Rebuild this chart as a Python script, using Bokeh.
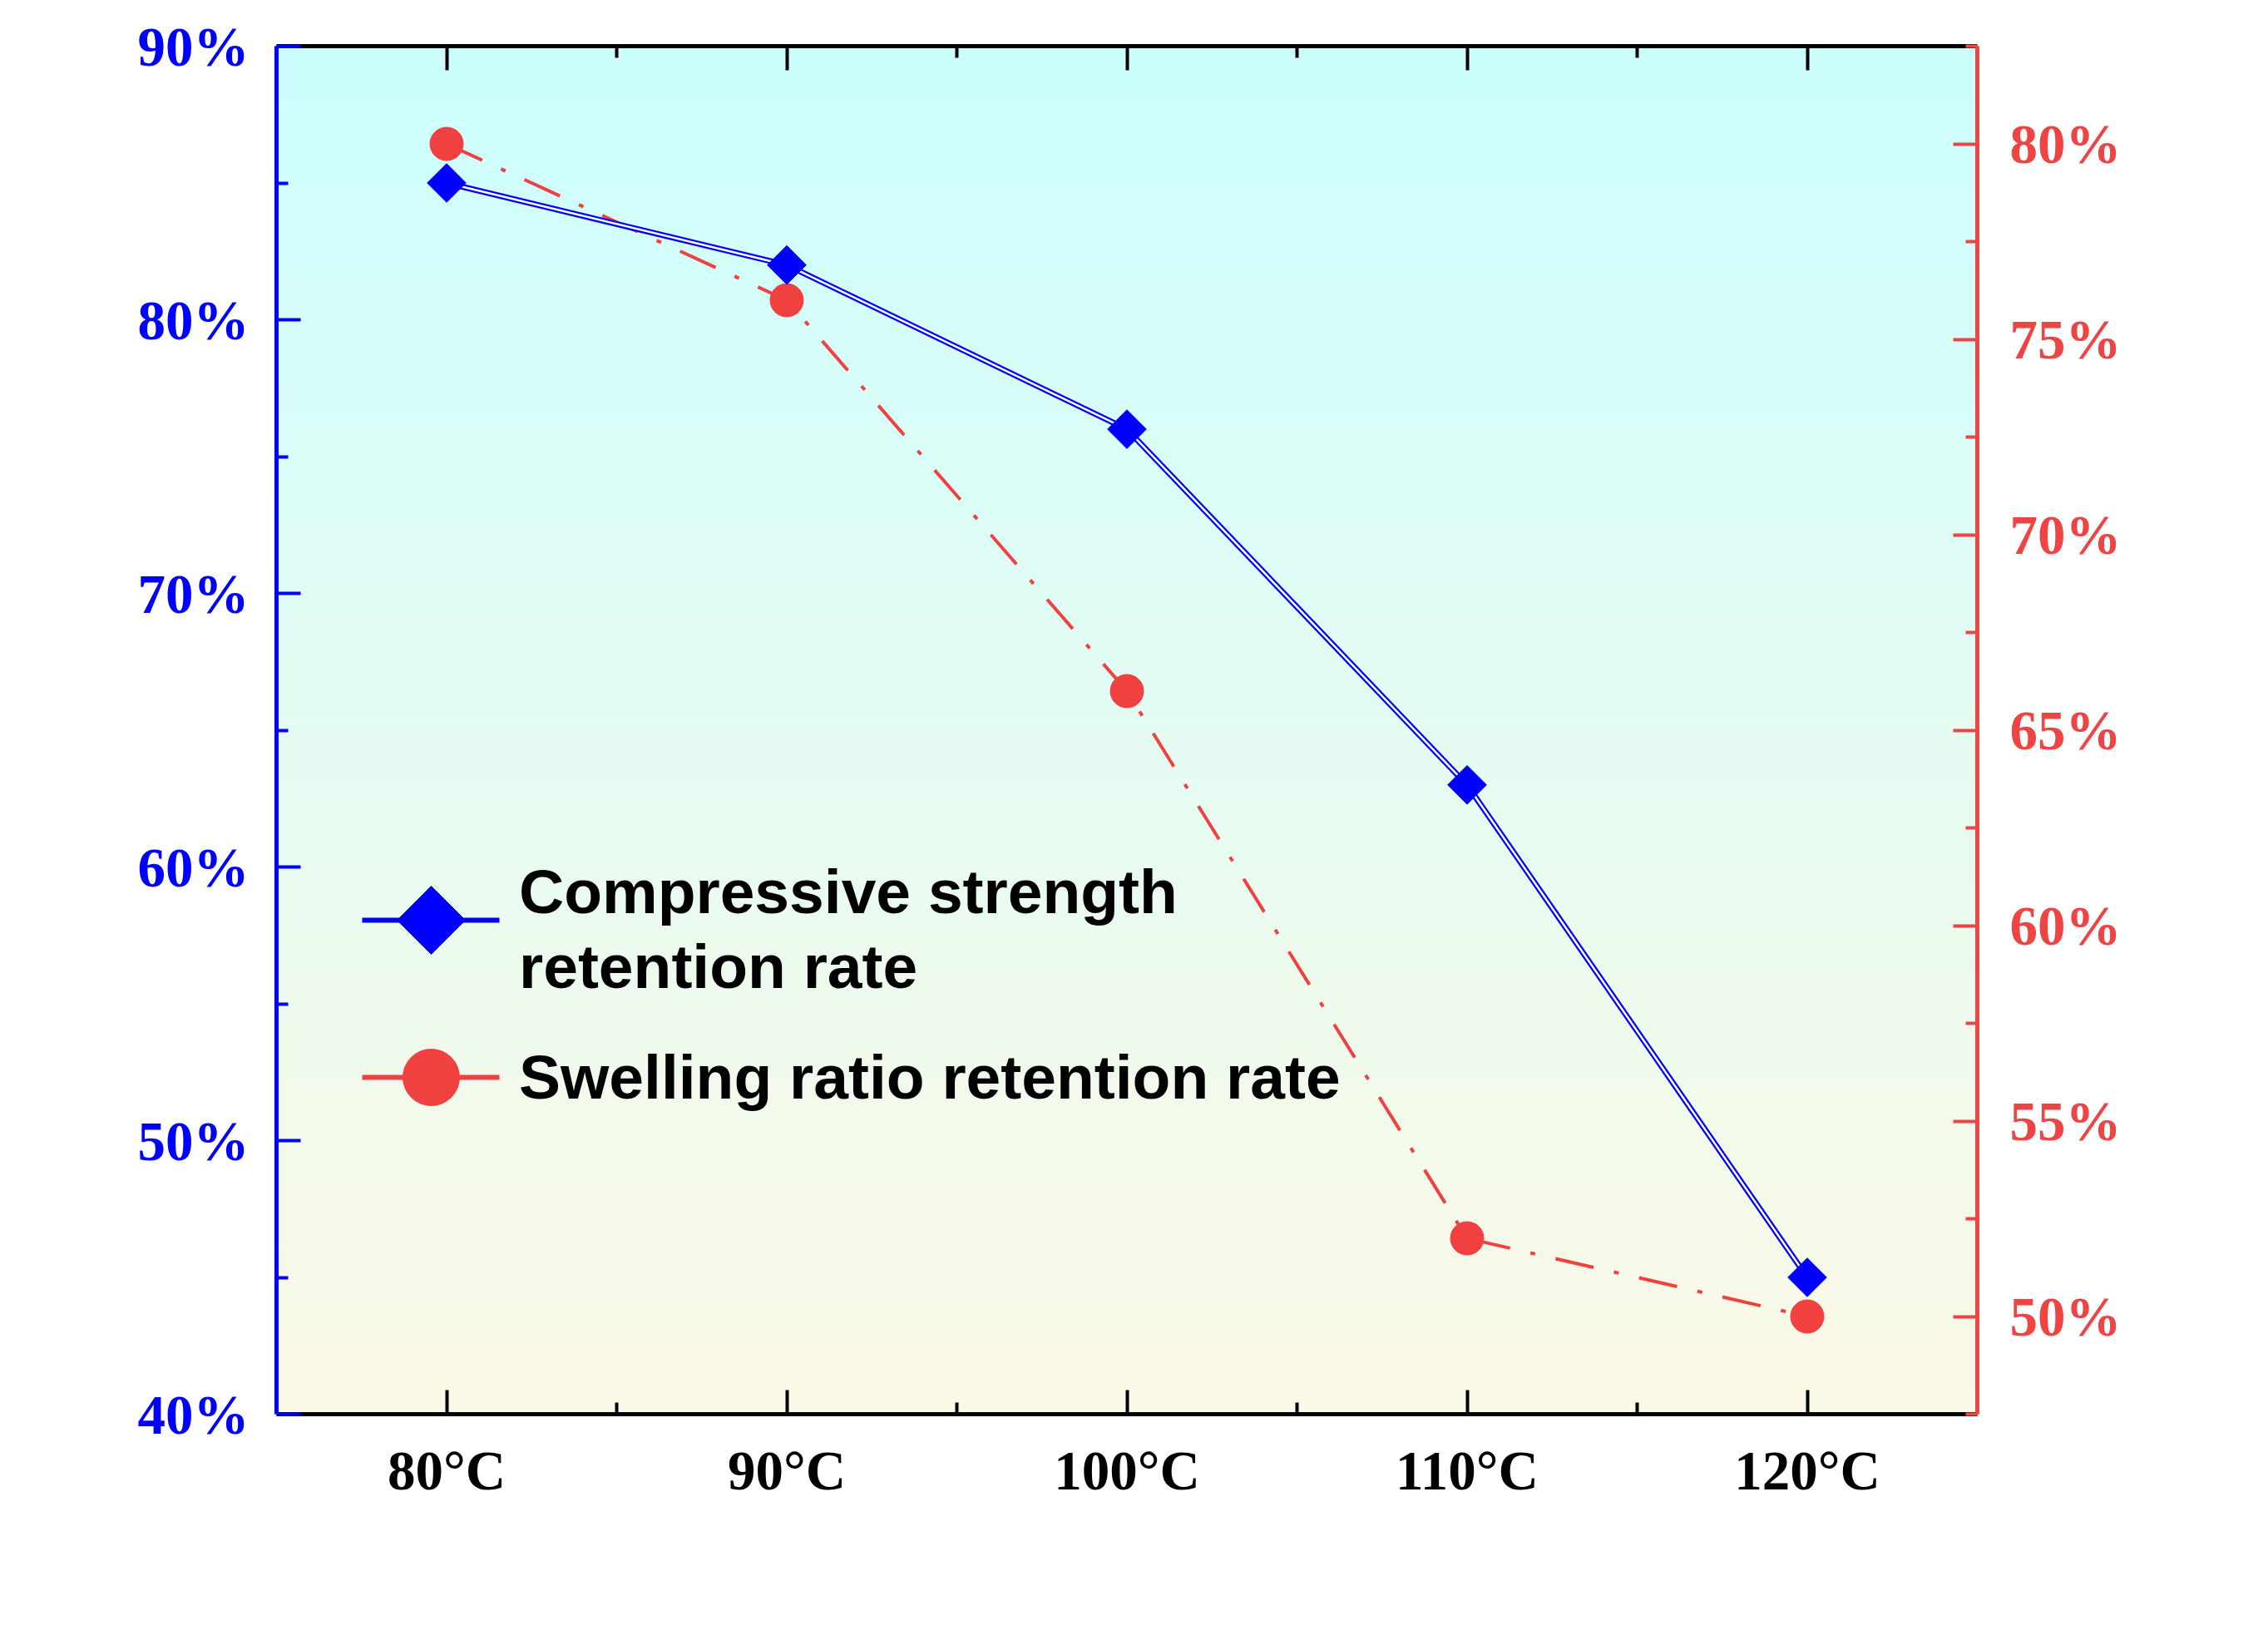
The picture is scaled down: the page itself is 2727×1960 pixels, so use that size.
import numpy as np
from bokeh.plotting import figure
from bokeh.models import (Range1d, LinearAxis, FixedTicker, CustomJSTickFormatter)
try:
    from bokeh.models import HTMLLabel as TextLabel
except ImportError:
    from bokeh.models import Label as TextLabel
from bokeh.embed import file_html
from bokeh.resources import INLINE

# ---- data ----
temps = [80, 90, 100, 110, 120]
temp_labels = ["80°C", "90°C", "100°C", "110°C", "120°C"]
compressive = [85, 82, 76, 63, 45]          # % (left axis)
swelling = [80, 76, 66, 52, 50]             # % (right axis)
left_ticks = [40, 50, 60, 70, 80, 90]
right_ticks = [50, 55, 60, 65, 70, 75, 80]
x_title = "Temperature"
left_title = "Compressive strength retention rate"
right_title = "Swelling ratio retention rate"
legend_lines = ["Compressive strength", "retention rate", "Swelling ratio retention rate"]

FONT = "Liberation Serif"
BLUE = "#0000ff"
RED = "#f04040"

W, H = 2711, 1944
ML, MR, MT, MB = 332, 334, 55, 244
FW, FH = W - ML - MR, H - MT - MB          # frame size in px

xr = Range1d(75, 125)
yr = Range1d(40, 90)
yr2 = Range1d(47.5, 82.5)

def dx(px):   # px from frame left -> x data
    return xr.start + px / FW * (xr.end - xr.start)

def dy(py):   # px from frame top -> y data (left range)
    return yr.end - py / FH * (yr.end - yr.start)

p = figure(width=W, height=H, x_range=xr, y_range=yr,
           output_backend="svg", toolbar_location=None,
           x_axis_location=None, y_axis_location=None,
           min_border_left=ML, min_border_right=MR,
           min_border_top=MT, min_border_bottom=MB)
p.extra_y_ranges = {"right": yr2}
p.outline_line_color = None
p.background_fill_color = "white"
p.border_fill_color = "white"
for g in p.grid:
    g.visible = False

# ---- gradient background (cyan -> cream) ----
n = 512
top_c = np.array([204, 255, 255], dtype=float)
bot_c = np.array([253, 249, 230], dtype=float)
t = np.linspace(0, 1, n)[:, None]
cols = bot_c * (1 - t) + top_c * t
img = np.empty((n, 2), dtype=np.uint32)
view = img.view(dtype=np.uint8).reshape((n, 2, 4))
view[:, :, 0] = cols[:, 0:1].astype(np.uint8)
view[:, :, 1] = cols[:, 1:2].astype(np.uint8)
view[:, :, 2] = cols[:, 2:3].astype(np.uint8)
view[:, :, 3] = 255
p.image_rgba(image=[img], x=xr.start, y=yr.start,
             dw=xr.end - xr.start, dh=yr.end - yr.start, level="image")

# ---- series ----
p.line(temps, swelling, y_range_name="right", line_color=RED,
       line_width=4, line_dash="47 25 6 25")
p.line(temps, compressive, line_color=BLUE, line_width=7)
p.line(temps, compressive, line_color="white", line_width=2.5)
p.scatter(temps, swelling, y_range_name="right", marker="circle",
          size=40, fill_color=RED, line_color=RED)
p.scatter(temps, compressive, marker="square", angle=np.pi / 4,
          size=33, fill_color=BLUE, line_color=BLUE)

# ---- axes ----
minor_x = [(a + b) / 2 for a, b in zip(temps, temps[1:])]

def style(ax, color):
    ax.axis_line_color = color
    ax.axis_line_width = 5
    ax.major_tick_line_color = color
    ax.minor_tick_line_color = color
    ax.major_tick_line_width = 4
    ax.minor_tick_line_width = 4
    ax.major_tick_in = 29
    ax.major_tick_out = 0
    ax.minor_tick_in = 14
    ax.minor_tick_out = 0
    ax.major_label_text_font = FONT
    ax.major_label_text_font_style = "bold"
    ax.major_label_text_font_size = "67px"
    ax.major_label_text_color = color

xb = LinearAxis(ticker=FixedTicker(ticks=temps, minor_ticks=minor_x))
style(xb, "black")
xb.major_label_overrides = {v: s for v, s in zip(temps, temp_labels)}
xb.major_label_standoff = 30
p.add_layout(xb, "below")

yl = LinearAxis(ticker=FixedTicker(ticks=left_ticks,
                minor_ticks=[(a + b) / 2 for a, b in zip(left_ticks, left_ticks[1:])]))
style(yl, BLUE)
yl.major_label_overrides = {v: f"{v}%" for v in left_ticks}
yl.major_label_standoff = 33
p.add_layout(yl, "left")

yrgt = LinearAxis(y_range_name="right",
                  ticker=FixedTicker(ticks=right_ticks,
                  minor_ticks=[v - 2.5 for v in right_ticks] + [right_ticks[-1] + 2.5]))
style(yrgt, "#ee4444")
yrgt.major_label_overrides = {v: f"{v}%" for v in right_ticks}
yrgt.major_label_standoff = 39
p.add_layout(yrgt, "right")

xt = LinearAxis(ticker=FixedTicker(ticks=temps, minor_ticks=minor_x),
                formatter=CustomJSTickFormatter(code="return ''"))
style(xt, "black")
xt.major_label_standoff = 0
p.add_layout(xt, "above")

# ---- legend samples (drawn by hand inside the frame) ----
L_X0, L_X1, L_XM = 103, 268, 186        # sample line extent / marker centre (px)
L_Y1, L_Y2 = 1051, 1240                 # sample rows (px from frame top)
p.line([dx(L_X0), dx(L_X1)], [dy(L_Y1)] * 2, line_color=BLUE, line_width=6)
p.scatter([dx(L_XM)], [dy(L_Y1)], marker="square", angle=np.pi / 4, size=58,
          fill_color=BLUE, line_color=BLUE)
p.line([dx(L_X0), dx(L_X1)], [dy(L_Y2)] * 2, line_color=RED, line_width=6)
p.scatter([dx(L_XM)], [dy(L_Y2)], marker="circle", size=68,
          fill_color=RED, line_color=RED)

# ---- texts as HTML labels (positions: centre of each text, px from frame corner) ----
def add_text(text, px, py, size, color, align="center", angle=0.0):
    lab = TextLabel(x=dx(px), y=dy(py), text=text, angle=angle,
                    text_font=FONT, text_font_style="bold", text_font_size=size,
                    text_color=color, text_align=align, text_baseline="middle")
    p.add_layout(lab)

add_text(x_title, 1312 - ML, 1874 - MT, "100px", "black")
add_text(legend_lines[0], 624 - ML, 1072 - MT, "75px", "black", align="left")
add_text(legend_lines[1], 624 - ML, 1162 - MT, "75px", "black", align="left")
add_text(legend_lines[2], 624 - ML, 1295 - MT, "75px", "black", align="left")
add_text(left_title, 58 - ML, 891 - MT, "100px", BLUE, angle=np.pi / 2)
add_text(right_title, 2668 - ML, 935 - MT, "100px", "#ff0000", angle=-np.pi / 2)

open("out.html", "w").write(file_html(p, INLINE))
